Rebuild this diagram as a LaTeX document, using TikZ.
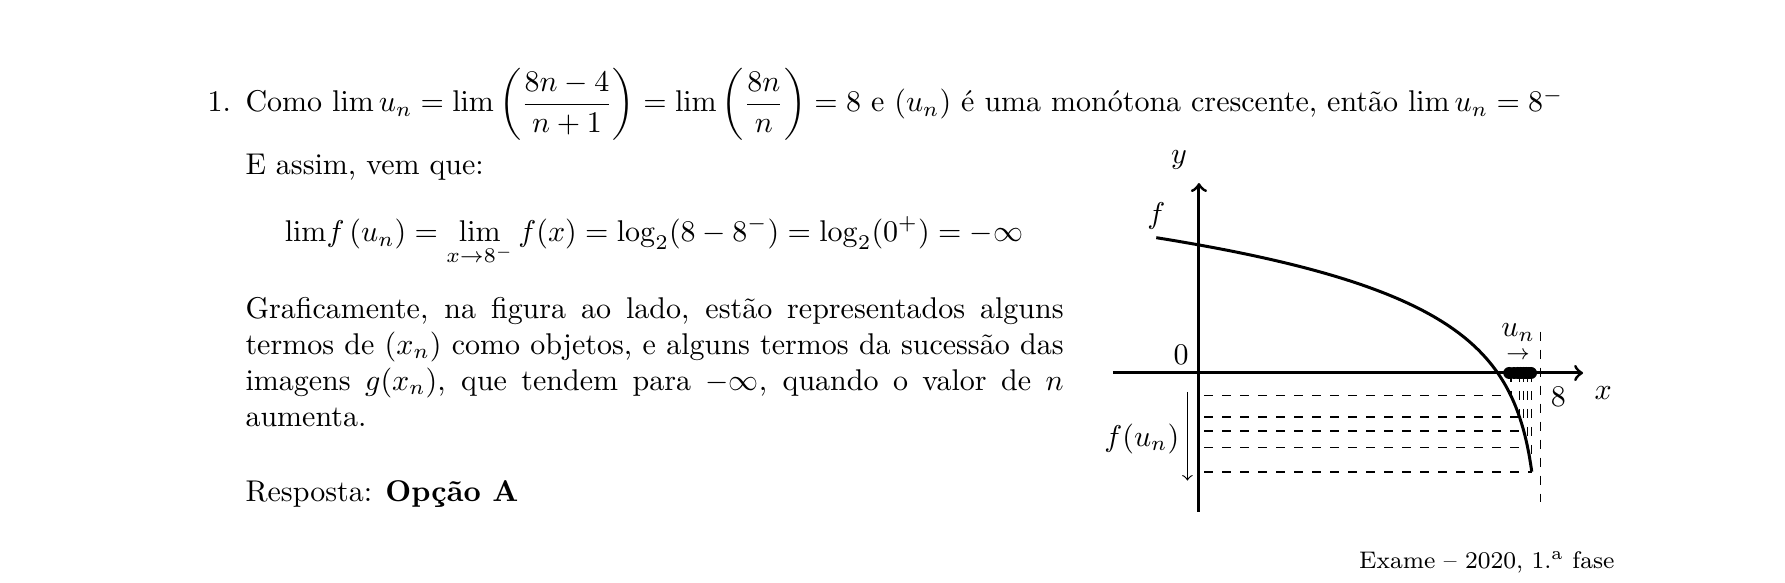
\documentclass[tikz,border=0pt]{standalone}
\usepackage{amsmath}
\usepackage{amssymb}
\usetikzlibrary{arrows,positioning}

\tikzset{
  texto/.style={inner sep=0pt, anchor=base west},
  eixo/.style={line width=1pt, ->},
  grafico/.style={line width=1pt},
  tracejado/.style={dashed, line width=0.4pt},
  ponto/.style={circle, fill, inner sep=0pt, minimum size=4pt},
}

\begin{document}
\begin{tikzpicture}
  \useasboundingbox (0,0) rectangle (20.913,-6.819);

  % resolucao
  \node[texto] (num) at (2.425,-1.312) {1.};
  \node[texto] (linha) at (2.870,-1.312) {Como $\lim u_n=\lim\left(\dfrac{8n-4}{n+1}\right)=\lim\left(\dfrac{8n}{n}\right)=8$ e $(u_n)$ é uma monótona crescente, então $\lim u_n=8^-$};
  \node[texto] (assim) at (2.870,-2.050) {E assim, vem que:};
  \node[inner sep=0pt, anchor=base] (limite) at (7.662,-2.835) {$\displaystyle \lim\!f\left(u_n\right)=\lim_{x\to 8^-}f(x)=\log_2(8-8^-)=\log_2(0^+)=-\infty$};
  \node[texto, text width=272.7pt, align=justify] (grafic) at (2.870,-3.726) {Graficamente, na figura ao lado, estão representados alguns\linebreak termos de $(x_n)$ como objetos, e alguns termos da sucessão das\linebreak imagens $g(x_n)$, que tendem para $-\infty$, quando o valor de $n$\linebreak aumenta.};
  \node[texto] (resp) at (2.870,-5.870) {Resposta: \textbf{Opção A}};
  \node[inner sep=0pt, anchor=base east, font=\footnotesize] (exame) at (18.921,-6.655) {Exame -- 2020, 1.\textsuperscript{a} fase};

  % grafico
  \begin{scope}[shift={(14.047cm,-4.370cm)}, x=0.5cm, y=0.5cm]
    \coordinate (xi) at (-2.02,0);
    \coordinate (xf) at (9,0);
    \coordinate (yi) at (0,-3.25);
    \coordinate (yf) at (0,4.45);
    \coordinate (ta) at (8,0.97);
    \coordinate (tb) at (8,-3.03);
    \coordinate (fa) at (-0.27,-0.44);
    \coordinate (fb) at (-0.27,-2.52);

    \draw[tracejado] (ta) -- (tb);
    \foreach \u [count=\i] in {7.31,7.51,7.61,7.70,7.80} {
      \coordinate (h\i) at (0.12,{ln(8-\u)/ln(2)});
      \coordinate (c\i) at (\u,{ln(8-\u)/ln(2)});
      \coordinate (v\i) at (\u,0);
      \draw[tracejado] (h\i) -- (c\i);
      \draw[tracejado] (v\i) -- (c\i);
    }
    \draw[eixo] (xi) -- (xf);
    \draw[eixo] (yi) -- (yf);
    \draw[grafico, domain=-1:7.8, samples=150, smooth] plot (\x,{ln(8-\x)/ln(2)});
    \foreach \u [count=\i] in {7.27,7.38,7.47,7.54,7.61,7.67,7.73,7.78} {
      \node[ponto] (p\i) at (\u,0) {};
    }
    \draw[->] (fa) -- (fb);

    \node (ylab) at (-0.47,4.98) {$y$};
    \node (xlab) at (9.47,-0.48) {$x$};
    \node (zero) at (-0.42,0.42) {$0$};
    \node (oito) at (8.42,-0.56) {$8$};
    \node (flab) at (-1.0,3.68) {$f$};
    \node[inner sep=0pt, anchor=east] (fun) at (-0.45,-1.54) {$f(u_n)$};
    \node[inner sep=0pt, anchor=base] (un) at (7.48,0.85) {$\underset{\rightarrow}{u_n}$};
  \end{scope}
\end{tikzpicture}
\end{document}
